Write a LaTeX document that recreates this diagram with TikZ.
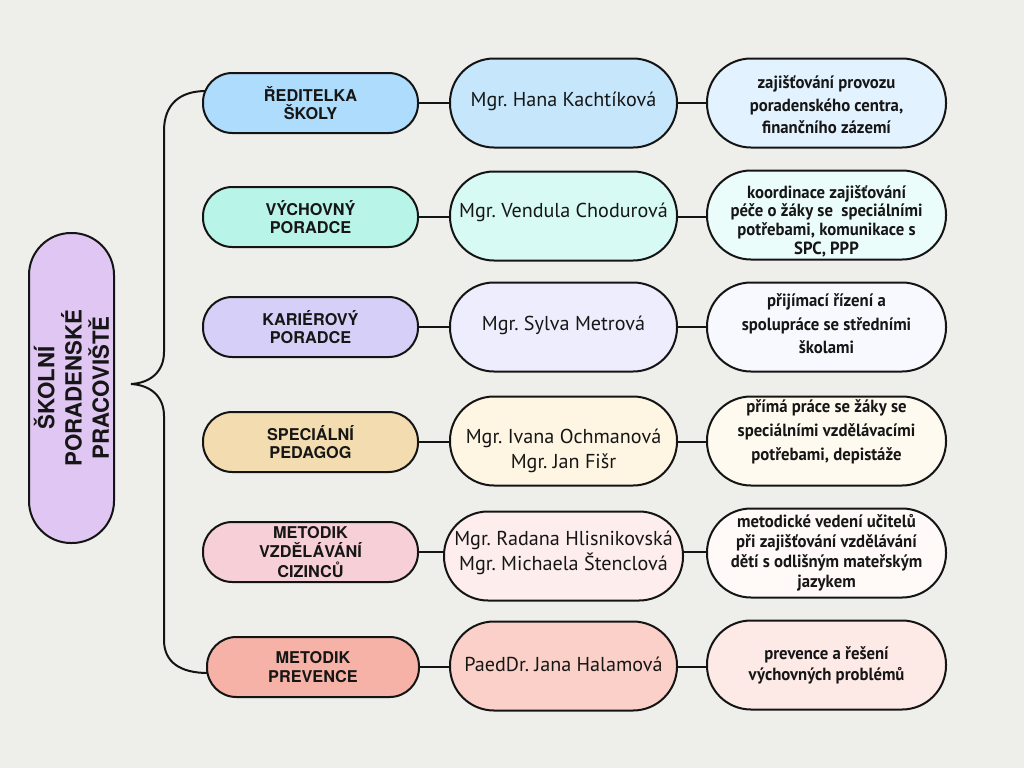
\documentclass[tikz,border=0pt]{standalone}
\usepackage{fontspec}
\setmainfont{TeX Gyre Heros}
\newfontfamily\namefont{PT Sans}
\newfontfamily\descfont[FakeStretch=0.95]{PT Sans}
\frenchspacing
\definecolor{bgc}{HTML}{EEEEEA}
\definecolor{linec}{HTML}{141414}
\definecolor{txt}{HTML}{161616}
\definecolor{cen}{HTML}{E0C6F2}
\definecolor{ra}{HTML}{AEDCFC}\definecolor{na}{HTML}{C6E6FC}\definecolor{da}{HTML}{E2F2FE}
\definecolor{rb}{HTML}{B8F5E8}\definecolor{nb}{HTML}{D7FBF4}\definecolor{db}{HTML}{EBFDFA}
\definecolor{rc}{HTML}{D6CFF7}\definecolor{nc}{HTML}{EEEDFD}\definecolor{dc}{HTML}{F8F8FF}
\definecolor{rd}{HTML}{F3DDB0}\definecolor{nd}{HTML}{FEF5E2}\definecolor{dd}{HTML}{FFFAF0}
\definecolor{re}{HTML}{F7CFD6}\definecolor{ne}{HTML}{FDEDED}\definecolor{de}{HTML}{FFF9F8}
\definecolor{rf}{HTML}{F6B2A6}\definecolor{nf}{HTML}{FAD0C8}\definecolor{df}{HTML}{FDE9E6}
\pgfdeclarelayer{bg}
\pgfdeclarelayer{lines}
\pgfsetlayers{bg,lines,main}
\tikzset{
  box/.style={draw=linec, line width=1.5pt, inner sep=0pt, align=center, text=txt},
  rolebox/.style={box, minimum width=161.25pt, minimum height=45pt, rounded corners=22pt,
    font=\bfseries\fontsize{12.2}{13.8}\selectfont},
  namebox/.style={box, minimum width=170.25pt, minimum height=66.75pt, rounded corners=33pt},
  descbox/.style={box, minimum width=179.25pt, minimum height=66.75pt, rounded corners=33pt},
  nametext/.style={inner sep=0pt, align=center, text=txt,
    font=\namefont\fontsize{15.1}{19}\selectfont},
  desctext/.style={inner sep=0pt, align=center, text=txt,
    font=\descfont\bfseries\fontsize{13.2}{#1}\selectfont},
  desctext/.default=16.5pt,
  conn/.style={draw=linec, line width=1.5pt},
}
\begin{document}
\begin{tikzpicture}[x=0.75pt, y=-0.75pt]
\useasboundingbox (0,0) rectangle (1024,768);
\begin{pgfonlayer}{bg}
\fill[bgc] (0,0) rectangle (1024,768);
\end{pgfonlayer}

\node[box, rotate=90, fill=cen, minimum width=232.5pt, minimum height=63.75pt, rounded corners=31.5pt,
  font=\bfseries\fontsize{16.7}{20.4}\selectfont] (c) at (71.5,388) {ŠKOLNÍ\\PORADENSKÉ\\PRACOVIŠTĚ};

\node[rolebox, fill=ra] (r1) at (310.5,103) {ŘEDITELKA\\ŠKOLY};
\node[rolebox, fill=rb] (r2) at (310.5,217) {VÝCHOVNÝ\\PORADCE};
\node[rolebox, fill=rc] (r3) at (310.5,327) {KARIÉROVÝ\\PORADCE};
\node[rolebox, fill=rd] (r4) at (310.5,442) {SPECIÁLNÍ\\PEDAGOG};
\node[rolebox, fill=re, font=\bfseries\fontsize{12.2}{14.6}\selectfont] (r5) at (310.5,552) {METODIK\\VZDĚLÁVÁNÍ\\CIZINCŮ};
\node[rolebox, fill=rf, minimum width=159pt] (r6) at (313,667) {METODIK\\PREVENCE};

\node[namebox, fill=na] (n1) at (563.5,103) {};
\node[namebox, fill=nb] (n2) at (563.5,216) {};
\node[namebox, fill=nc] (n3) at (563.5,327) {};
\node[namebox, fill=nd] (n4) at (563.5,441) {};
\node[namebox, fill=ne, minimum width=179.25pt] (n5) at (563.5,556) {};
\node[namebox, fill=nf] (n6) at (563.5,666) {};

\node[nametext] (t1) at (563.5,101) {Mgr. Hana Kachtíková};
\node[nametext] (t2) at (563.5,212) {Mgr. Vendula Chodurová};
\node[nametext] (t3) at (563.5,325) {Mgr. Sylva Metrová};
\node[nametext] (t4) at (563.5,451) {Mgr. Ivana Ochmanová\\Mgr. Jan Fišr};
\node[nametext] (t5) at (563.5,553) {Mgr. Radana Hlisnikovská\\Mgr. Michaela Štenclová};
\node[nametext] (t6) at (563.5,664) {PaedDr. Jana Halamová};

\node[descbox, fill=da] (d1) at (826.5,103) {};
\node[descbox, fill=db] (d2) at (826.5,215) {};
\node[descbox, fill=dc] (d3) at (826.5,327) {};
\node[descbox, fill=dd] (d4) at (826.5,441) {};
\node[descbox, fill=de] (d5) at (826.5,553) {};
\node[descbox, fill=df] (d6) at (826.5,665) {};

\node[desctext=17pt] (e1) at (826.5,105) {zajišťování provozu\\poradenského centra,\\finančního zázemí};
\node[desctext=14pt] (e2) at (826.5,221) {koordinace zajišťování\\péče o žáky se\ \ speciálními\\potřebami, komunikace s\\SPC, PPP};
\node[desctext=17.5pt] (e3) at (826.5,324) {přijímací řízení a\\spolupráce se středními\\školami};
\node[desctext=18pt] (e4) at (826.5,432) {přímá práce se žáky se\\speciálními vzdělávacími\\potřebami, depistáže};
\node[desctext=15pt] (e5) at (826.5,553) {metodické vedení učitelů\\při zajišťování vzdělávání\\dětí s odlišným mateřským\\jazykem};
\node[desctext=15.75pt] (e6) at (826.5,665) {prevence a řešení\\výchovných problémů};

\begin{pgfonlayer}{lines}
\foreach \i in {1,...,6} {
  \draw[conn] (r\i.east) -- (r\i.east -| n\i.west);
  \draw[conn] (r\i.east -| n\i.east) -- (r\i.east -| d\i.west);
}
\draw[conn] ([xshift=3pt,yshift=9pt]r1.west)
  .. controls (180,91) and (164,104) .. (164,131)
  -- (164,352)
  .. controls (164,372) and (150,383) .. (131,384)
  .. controls (150,385) and (164,396) .. (164,416)
  -- (164,640)
  .. controls (164,662) and (180,673) .. ([xshift=1.5pt,yshift=-4.5pt]r6.west);
\end{pgfonlayer}
\end{tikzpicture}
\end{document}
